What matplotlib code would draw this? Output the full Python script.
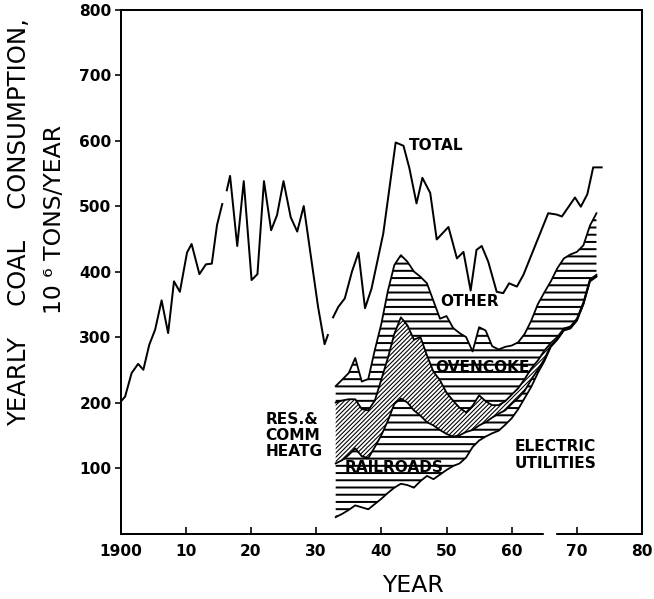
import numpy as np
import matplotlib
matplotlib.use("Agg")
from matplotlib import pyplot as plt

plt.rcParams['font.family'] = ['DejaVu Sans']

# total consumption line, NaN marks the breaks in the trace
total_years = [1900, 1900.7, 1901.7, 1902.7, 1903.5, 1904.4, 1905.3, 1906.3, 1907.3, 1908.2,
               1909.1, 1910.2, 1910.9, 1912.1, 1913.1, 1914.0, 1914.8, 1915.6, 1916.0,
               1916.3, 1916.8, 1917.9, 1918.9, 1920.1, 1921.0, 1922.0, 1923.1, 1924.0,
               1925.0, 1926.1, 1927.1, 1928.1, 1930.3, 1931.3, 1931.8, 1932.2,
               1932.6, 1933.4, 1934.4, 1935.5, 1936.5, 1937.5, 1938.5, 1940.3, 1942.2,
               1943.4, 1944.3, 1945.4, 1946.3, 1947.5, 1948.5, 1950.3, 1951.6, 1952.6,
               1953.7, 1954.6, 1955.4, 1956.4, 1957.7, 1958.7, 1959.6, 1960.8, 1961.8,
               1965.6, 1966.9, 1967.7, 1969.7, 1970.6, 1971.6, 1972.5, 1973.8]
total = [201, 209, 245, 259, 250, 288, 311, 356, 306, 385,
         369, 429, 442, 396, 411, 412, 471, 503, np.nan,
         524, 546, 439, 538, 387, 396, 538, 463, 486,
         538, 483, 461, 500, 346, 289, 303, np.nan,
         330, 346, 359, 400, 429, 344, 374, 458, 597,
         592, 558, 504, 543, 520, 449, 468, 420, 430,
         371, 433, 439, 415, 369, 367, 382, 377, 395,
         489, 487, 484, 513, 499, 518, 559, 559]

# consumption by sector, 1933-1973, 10^6 tons/year
years = list(range(1933, 1974))
utilities = [25, 30, 36, 43, 40, 37, 45, 53, 62, 70, 76, 74, 70, 80, 88, 83, 90, 97, 103, 107,
             116, 132, 142, 148, 153, 157, 166, 176, 190, 207, 224, 245, 263, 285, 296, 310,
             313, 325, 350, 385, 392]
railroads = [82, 82, 84, 87, 78, 78, 87, 97, 110, 128, 130, 126, 118, 100, 82, 82, 68, 55, 45, 43,
             39, 26, 23, 22, 24, 26, 22, 22, 17, 11, 11, 5, 3, 2, 1, 1,
             1, 1, 1, 1, 1]
res_comm = [93, 91, 85, 75, 72, 73, 71, 85, 96, 107, 124, 118, 108, 120, 102, 82, 76, 63, 55, 42,
            30, 37, 46, 32, 19, 13, 14, 14, 15, 18, 17, 14, 13, 4, 3, 2,
            2, 2, 2, 2, 2]
oven_coke = [25, 32, 40, 63, 42, 48, 77, 85, 102, 105, 95, 97, 104, 92, 110, 108, 94, 117, 111, 114,
             115, 83, 104, 108, 90, 85, 83, 75, 70, 69, 73, 86, 89, 94, 105, 107,
             110, 102, 87, 82, 94]

u = np.array(utilities)
r = u + np.array(railroads)
c = r + np.array(res_comm)
o = c + np.array(oven_coke)

fig = plt.figure(figsize=(654 / 130, 599 / 130), dpi=130)
ax = fig.add_axes([0.1843, 0.1093, 0.7975, 0.8748])


def band(lo, hi, hatch, hlw):
    plt.rcParams['hatch.linewidth'] = hlw
    p = ax.fill_between(years, lo, hi, facecolor='white', edgecolor='black',
                        hatch=hatch, linewidth=0, zorder=1)
    if hasattr(p, 'set_hatch_linewidth'):
        p.set_hatch_linewidth(hlw)
    return p


band(u, r, '---', 1.1)
band(r, c, '/' * 10, 0.6)
band(c, o, '---', 1.1)

for edge in (u, r, c, o):
    ax.plot(years, edge, color='black', lw=1.0, zorder=2)

ax.plot(total_years, total, color='black', lw=1.1, zorder=2)

lab = dict(fontsize=8.5, fontweight='bold', ha='left', va='center', zorder=4)
ax.text(1944.3, 593, 'TOTAL', **lab)
ax.text(1949.0, 354, 'OTHER', **lab)
ax.text(1948.2, 254, 'OVENCOKE', **lab)
ax.text(1934.4, 101, 'RAILROADS', **lab)
ax.text(1922.2, 150, 'RES.&\nCOMM\nHEATG', linespacing=1.1, **lab)
ax.text(1960.5, 120, 'ELECTRIC\nUTILITIES', linespacing=1.1, **lab)

ax.set_xlim(1900, 1980)
ax.set_ylim(0, 800)
ax.set_xticks(range(1900, 1981, 10))
ax.set_xticklabels(['1900', '10', '20', '30', '40', '50', '60', '70', '80'])
ax.set_yticks(range(100, 801, 100))
ax.tick_params(axis='x', direction='in', length=4, width=0.9, pad=6,
               labelsize=8.5)
ax.tick_params(axis='y', direction='out', length=3.5, width=0.9, pad=1.5,
               labelsize=8.5)
for t in ax.get_xticklabels() + ax.get_yticklabels():
    t.set_fontweight('bold')
for s in ax.spines.values():
    s.set_linewidth(1.1)

# small break in the bottom axis line
ax.plot([1965.3, 1966.4], [0, 0], color='white', lw=3, clip_on=False, zorder=5)

fig.text(19 / 654, 1 - 222 / 599, 'YEARLY    COAL    CONSUMPTION,', rotation=90,
         ha='center', va='center', fontsize=13.5)
fig.text(55 / 654, 1 - 219 / 599, '10 \u2076 TONS/YEAR', rotation=90,
         ha='center', va='center', fontsize=13)
fig.text(413 / 654, 1 - 586 / 599, 'YEAR', ha='center', va='center', fontsize=13)

fig.savefig('out.png', dpi=130)
